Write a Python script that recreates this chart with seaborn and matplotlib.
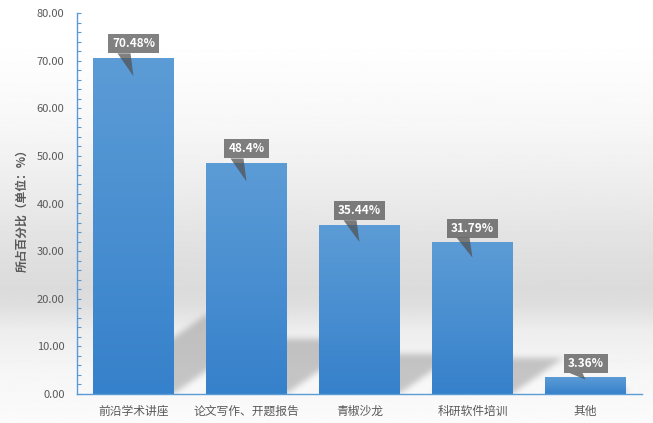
import numpy as np
import pandas as pd
import matplotlib
matplotlib.use("Agg")
import matplotlib.pyplot as plt
from matplotlib.patches import Polygon, Rectangle
import seaborn as sns

categories = ["前沿学术讲座", "论文写作、开题报告", "青椒沙龙", "科研软件培训", "其他"]
values = [70.48, 48.4, 35.44, 31.79, 3.36]
value_labels = ["70.48%", "48.4%", "35.44%", "31.79%", "3.36%"]
y_ticks = [0, 10, 20, 30, 40, 50, 60, 70, 80]
y_label = "所占百分比（单位：%）"

sns.set_style("white")
plt.rcParams["font.family"] = ["Noto Sans CJK SC", "DejaVu Sans"]

W, H = 653, 423
fig = plt.figure(figsize=(W / 100, H / 100), dpi=100)

# background gradient
bg = fig.add_axes([0, 0, 1, 1], zorder=-10)
stops_pos = [0, 0.12, 0.3, 0.45, 0.6, 0.68, 0.72, 0.78, 0.88, 1.0]
stops_val = [255, 254, 247, 236, 224, 219, 222, 237, 246, 251]
yy = np.linspace(0, 1, 400)
g = np.interp(yy, stops_pos, stops_val) / 255.0
bg.imshow(np.repeat(g[:, None], 2, axis=1), cmap="gray", vmin=0, vmax=1,
          aspect="auto", extent=[0, 1, 0, 1], origin="upper")
bg.set_axis_off()

ax_l, ax_b, ax_w, ax_h = 77, 29, 565, 381
ax = fig.add_axes([ax_l / W, ax_b / H, ax_w / W, ax_h / H])
ax.set_facecolor("none")

df = pd.DataFrame({"cat": categories, "val": values})
sns.barplot(data=df, x="cat", y="val", color="#4B90D2", width=0.71,
            saturation=1, ax=ax, zorder=3, linewidth=0, edgecolor="none")

ax.set_xlim(-0.5, 4.5)
ax.set_ylim(0, 80)
ppx = ax_w / 5.0      # pixels per category
ppy = ax_h / 80.0     # pixels per unit

# shadows (blurred skewed parallelograms)
nx, ny = ax_w, ax_h
xs = np.linspace(-0.5, 4.5, nx)
ys = np.linspace(0, 80, ny)
X, Y = np.meshgrid(xs, ys)
mask = np.zeros_like(X)
for p in ax.patches:
    x0 = p.get_x(); w = p.get_width(); h = p.get_height()
    hs = 0.235 * h
    slope = 0.7
    shift = (Y * ppy) / slope / ppx
    inside = (Y >= 0) & (Y <= hs) & (X >= x0 + shift) & (X <= x0 + w + shift)
    mask = np.maximum(mask, inside.astype(float))
k = 7
ker = np.ones(k) / k
for _ in range(2):
    mask = np.apply_along_axis(lambda r: np.convolve(r, ker, mode="same"), 1, mask)
    mask = np.apply_along_axis(lambda r: np.convolve(r, ker, mode="same"), 0, mask)
rgba = np.zeros((ny, nx, 4))
rgba[..., :3] = 0.5
rgba[..., 3] = mask * 0.42
ax.imshow(rgba, extent=[-0.5, 4.5, 0, 80], origin="lower", aspect="auto",
          zorder=1, interpolation="bilinear")

# bar gradients
top_c = np.array([0x5C, 0x9C, 0xD6]) / 255
bot_c = np.array([0x36, 0x81, 0xCB]) / 255
for p in ax.patches:
    x0 = p.get_x(); w = p.get_width(); h = p.get_height()
    t = np.linspace(0, 1, 100)[:, None]
    img = top_c[None, :] * (1 - t) + bot_c[None, :] * t
    img = np.repeat(img[:, None, :], 2, axis=1)
    ax.imshow(img, extent=[x0, x0 + w, 0, h], origin="upper", aspect="auto", zorder=4)

ax.set_xlim(-0.5, 4.5)
ax.set_ylim(0, 80)

# axes styling
axis_c = "#5B9BD5"
for s in ["top", "right"]:
    ax.spines[s].set_visible(False)
for s in ["left", "bottom"]:
    ax.spines[s].set_color(axis_c)
    ax.spines[s].set_linewidth(1.0)
    ax.spines[s].set_zorder(6)
ax.set_yticks(y_ticks)
ax.set_yticklabels([f"{v:.2f}" for v in y_ticks])
ax.set_yticks(np.arange(0, 81, 2), minor=True)
ax.tick_params(axis="y", which="both", direction="in", length=3, width=0.8,
               color=axis_c, left=True, labelsize=8, labelcolor="#595959", pad=9)
ax.tick_params(axis="x", length=0, labelsize=8.5, labelcolor="#595959", pad=8)
ax.set_xlabel("")
ax.set_ylabel(y_label, fontsize=8.5, color="#595959", fontweight="bold")
ax.yaxis.set_label_coords(-0.085, 0.49)

# callout labels
fig.canvas.draw()
renderer = fig.canvas.get_renderer()
box_h = 19
for p, lab in zip(ax.patches, value_labels):
    x0 = p.get_x(); w = p.get_width(); h = p.get_height()
    cx = x0 + w / 2
    bar_px = h * ppy
    box_bottom = h + 5 / ppy
    txt = ax.text(cx, box_bottom + (box_h / 2) / ppy, lab, ha="center", va="center",
                  color="white", fontsize=8.5, fontweight="bold", zorder=8)
    tw = txt.get_window_extent(renderer).width
    bw = (tw + 8) / ppx
    ax.add_patch(Rectangle((cx - bw / 2, box_bottom), bw, box_h / ppy,
                           facecolor="#505050", alpha=0.72, edgecolor="none",
                           zorder=7, clip_on=False))
    tip_depth = min(18, 0.1 * bar_px)
    ax.add_patch(Polygon([(cx - 16 / ppx, box_bottom), (cx - 3 / ppx, box_bottom),
                          (cx, h - tip_depth / ppy)], closed=True,
                         facecolor="#505050", alpha=0.72, edgecolor="none",
                         zorder=7, clip_on=False))

fig.savefig("out.png", dpi=100)
